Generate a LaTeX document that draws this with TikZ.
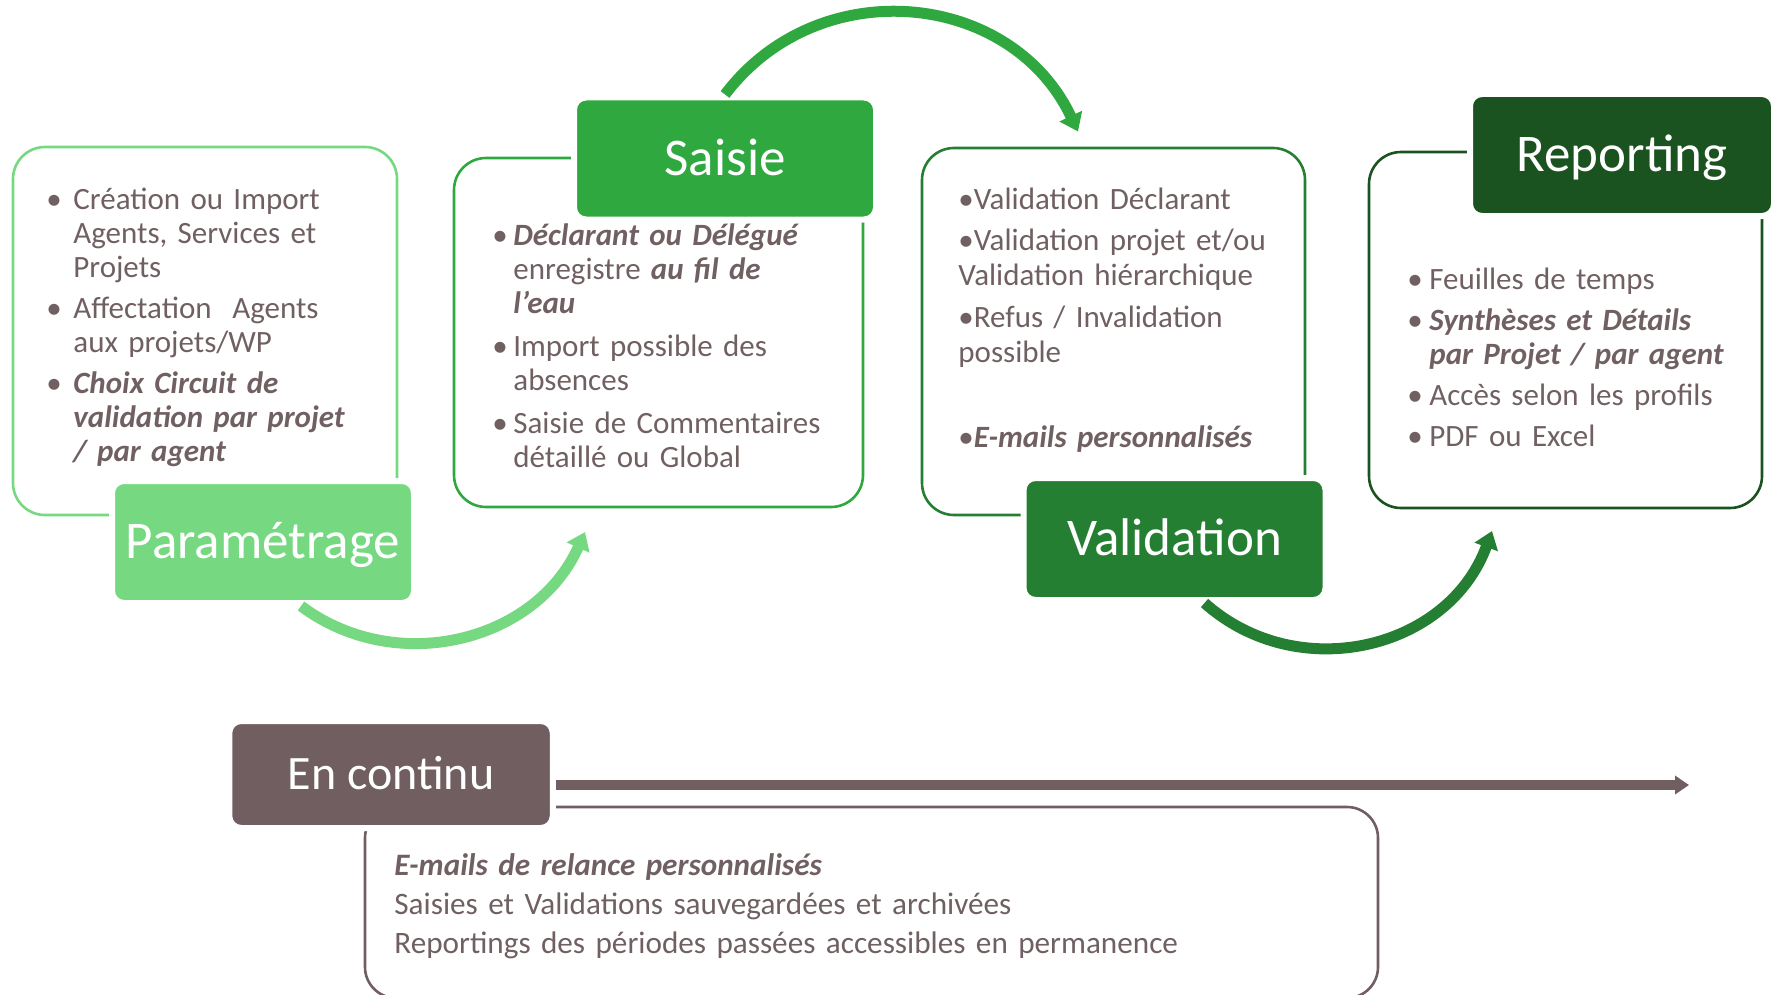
\documentclass[tikz,border=0pt]{standalone}
\usepackage{fontspec}
\setmainfont{Carlito}
\usetikzlibrary{arrows.meta,calc}

\definecolor{vertclair}{RGB}{118,217,129}
\definecolor{vert}{RGB}{46,168,63}
\definecolor{vertmoyen}{RGB}{37,127,50}
\definecolor{vertfonce}{RGB}{27,83,32}
\definecolor{taupe}{RGB}{113,94,96}
\definecolor{texte}{RGB}{112,96,97}

% bullet with hanging indent
\newcommand\puce[2][11pt]{\hangindent=#1\hangafter=1\noindent\makebox[#1][l]{\textbullet}#2\par}

\begin{document}
\begin{tikzpicture}[x=0.5pt,y=-0.5pt,
    etape/.style={fill=#1, draw=white, line width=3pt, rounded corners=6pt, text=white,
        font=\fontsize{26.5}{30}\selectfont, minimum width=151pt, minimum height=61pt,
        text height=16.5pt, text depth=0pt, inner sep=0pt},
    cadre/.style={draw=#1, line width=1.3pt, rounded corners=16pt, inner sep=0pt},
    liste/.style={anchor=base west, inner sep=0pt, text width=#1, align=left, text=texte,
        font=\fontsize{15.5}{17}\selectfont},
    fleche/.style={draw=#1, line width=5.5pt, -{Triangle[length=8.5pt,width=12pt]}}]
    \useasboundingbox (0,0) rectangle (1771,995);

    % Boxes
    \node[cadre=vertclair, minimum width=192pt, minimum height=184pt] (parbox) at (205,331) {};
    \node[cadre=vert, minimum width=204.5pt, minimum height=174.5pt] (saibox) at (658.5,332.5) {};
    \node[cadre=vertmoyen, minimum width=191.5pt, minimum height=183.5pt] (valbox) at (1113.5,331.5) {};
    \node[cadre=vertfonce, minimum width=196.5pt, minimum height=178pt] (repbox) at (1565.5,330) {};
    \node[cadre=taupe, rounded corners=15.5pt, minimum width=506.5pt, minimum height=95.5pt] (encbox) at (871.5,902.5) {};

    % Texts in the boxes
    \node[liste=185pt] (partxt) at (46,209) {\setlength\parskip{3.5pt}%
        \puce[13.5pt]{Création ou Import\newline Agents, Services et\newline Projets}
        \puce[13.5pt]{Affectation~ Agents\newline aux projets/WP}
        \puce[13.5pt]{\textbf{\textit{Choix Circuit de\newline validation par projet\newline / par agent}}}};
    \node[liste=190pt] (saitxt) at (492,245) {\setlength\parskip{4.5pt}%
        \puce[10.5pt]{\textbf{\textit{Déclarant ou Délégué}}\newline enregistre \textbf{\textit{au fil de\newline l’eau}}}
        \puce[10.5pt]{Import possible des\newline absences}
        \puce[10.5pt]{Saisie de Commentaires\newline détaillé ou Global}};
    \node[liste=185pt, font=\fontsize{15.5}{17.5}\selectfont] (valtxt) at (958,209) {\setlength\parskip{3.3pt}%
        \textbullet Validation Déclarant\par
        \textbullet Validation projet et/ou\newline Validation hiérarchique\par
        \textbullet Refus / Invalidation\newline possible\par
        \vspace{22pt}\textbullet\textbf{\textit{E-mails personnalisés}}};
    \node[liste=185pt] (reptxt) at (1407,289) {\setlength\parskip{3.5pt}%
        \puce{Feuilles de temps}
        \puce{\textbf{\textit{Synthèses et Détails\newline par Projet / par agent}}}
        \puce{Accès selon les profils}
        \puce{PDF ou Excel}};
    \node[liste=460pt, font=\fontsize{15.6}{19.5}\selectfont] (enctxt) at (394,875) {%
        \textbf{\textit{E-mails de relance personnalisés}}\newline
        Saisies et Validations sauvegardées et archivées\newline
        Reportings des périodes passées accessibles en permanence};

    % Step labels
    \node[etape=vertclair] (par) at (263,542) {Paramétrage};
    \node[etape=vert] (sai) at (725,158.5) {Saisie};
    \node[etape=vertmoyen] (val) at (1174.5,539) {Validation};
    \node[etape=vertfonce, minimum width=152pt] (rep) at (1622,155) {Reporting};
    \node[etape=taupe, minimum width=161.75pt, minimum height=53.5pt, text height=15.2pt,
        font=\fontsize{24}{28}\selectfont] (enc) at (391,774.5) {En continu};

    % Arrows between the steps
    \coordinate (a1) at (585,532);
    \coordinate (a2) at (1078,131.5);
    \coordinate (a3) at (1492,531);
    \draw[fleche=vertclair] ($(par.south)+(38,0)$) .. controls (396,677) and (536,642) .. (a1);
    \draw[fleche=vert] (sai.north) .. controls (818.6,-29.1) and (1011.3,-9.7) .. (a2);
    \draw[fleche=vertmoyen] ($(val.south)+(30,0)$) .. controls (1297.5,686) and (1448.5,650) .. (a3);

    % Time line
    \coordinate (fin) at (1689,785);
    \draw[taupe, line width=5pt, -{Triangle[length=7pt,width=9pt]}] (enc.east |- fin) -- (fin);
\end{tikzpicture}
\end{document}
